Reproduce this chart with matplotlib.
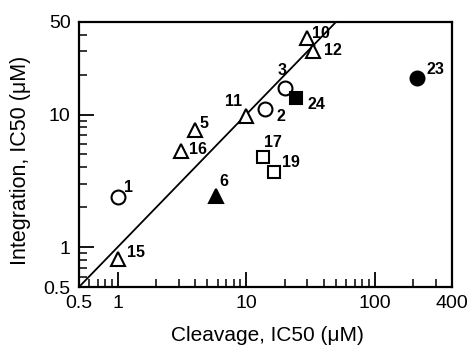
import matplotlib.pyplot as plt
from matplotlib.ticker import FixedLocator, NullFormatter
import numpy as np

plt.rcParams["font.family"] = ["Liberation Sans", "DejaVu Sans"]

# compound ids, cleavage IC50, integration IC50 (uM), marker, filled
labels = ["1", "15", "6", "5", "16", "11", "2", "3", "24", "10", "12", "23", "17", "19"]
cleavage = [1.0, 1.0, 5.8, 4.0, 3.1, 10.0, 14.0, 20.0, 24.5, 30.0, 33.0, 215.0, 13.5, 16.5]
integration = [2.4, 0.81, 2.45, 7.7, 5.3, 9.7, 11.0, 16.0, 13.4, 38.0, 30.0, 19.0, 4.75, 3.7]
markers = ["o", "^", "^", "^", "^", "^", "o", "o", "s", "^", "^", "o", "s", "s"]
filled = [False, False, True, False, False, False, False, False, True, False, False, True, False, False]
# label offsets from marker (pixels, right / up)
label_dx = [11, 18, 8, 9, 17, -13, 16, -3, 20, 13, 20, 18, 10, 17]
label_dy = [9, 7, 14, 6, 2, 15, -7, 17, -7, 4, 1, 8, 15, 9]

fit_x = [0.5, 60]
fit_y = [0.5, 60]

fig = plt.figure(figsize=(4.71, 3.47), dpi=100)
ax = fig.add_axes([79 / 471, 1 - 287 / 347, (452 - 79) / 471, (287 - 22) / 347])

ax.plot(fit_x, fit_y, color="black", linewidth=1.3, zorder=1)

sizes = {"o": 10, "^": 10, "s": 9}
for lab, cx, iy, m, f, dx, dy in zip(labels, cleavage, integration, markers, filled, label_dx, label_dy):
    ax.plot(cx, iy, linestyle="None", marker=m, markersize=sizes[m],
            markerfacecolor="black" if f else "white", markeredgecolor="black",
            markeredgewidth=1.5, zorder=3)
    ax.annotate(lab, (cx, iy), xytext=(dx, dy), textcoords="offset pixels",
                ha="center", va="center", fontsize=11.5, fontweight="bold", zorder=4)

ax.set_xscale("log")
ax.set_yscale("log")
ax.set_xlim(0.5, 400)
ax.set_ylim(0.5, 50)

ax.xaxis.set_major_locator(FixedLocator([0.5, 1, 10, 100, 400]))
ax.set_xticklabels(["0.5", "1", "10", "100", "400"])
ax.xaxis.set_minor_locator(FixedLocator(
    [0.6, 0.7, 0.8, 0.9] + list(range(2, 10)) + list(range(20, 100, 10)) + [200, 300]))
ax.xaxis.set_minor_formatter(NullFormatter())

ax.yaxis.set_major_locator(FixedLocator([0.5, 1, 10, 50]))
ax.set_yticklabels(["0.5", "1", "10", "50"])
ax.yaxis.set_minor_locator(FixedLocator(
    [0.6, 0.7, 0.8, 0.9] + list(range(2, 10)) + [20, 30, 40]))
ax.yaxis.set_minor_formatter(NullFormatter())

ax.tick_params(which="major", direction="in", length=11, width=1.3, labelsize=14, pad=6)
ax.tick_params(which="minor", direction="in", length=6, width=1.1)
for sp in ax.spines.values():
    sp.set_linewidth(1.6)

ax.set_xlabel("Cleavage, IC50 (\u03bcM)", fontsize=15)
ax.set_ylabel("Integration, IC50 (\u03bcM)", fontsize=15.5)
ax.xaxis.set_label_coords((267 - 79) / 373, -(326 - 287) / 265)
ax.yaxis.set_label_coords(-(79 - 31) / 373, (287 - 160) / 265)

fig.savefig("out.png", dpi=100)
